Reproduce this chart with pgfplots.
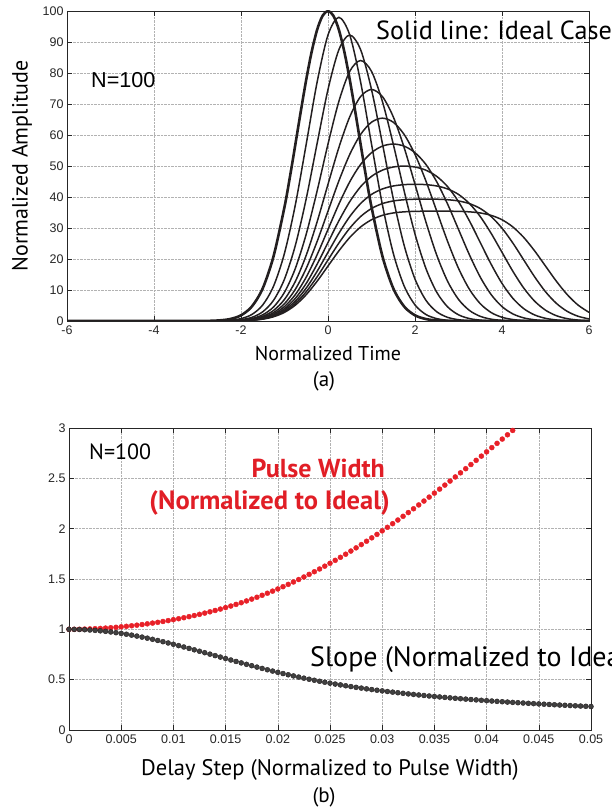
\documentclass[border=0pt]{standalone}
\usepackage{fontspec}
\setmainfont{Liberation Sans}
\newfontfamily\lab{PT Sans}
\usepackage{pgfplots}
\pgfplotsset{compat=1.18}
\definecolor{pred}{RGB}{232,32,40}
\definecolor{tred}{RGB}{225,30,38}
\definecolor{cblk}{RGB}{35,31,32}
\pgfplotsset{
  mystyle/.style={
    scale only axis,
    tick align=inside,
    grid=major,
    major grid style={densely dotted, black!30, line width=0.5pt},
    axis line style={line width=0.8pt, black!85},
    every tick/.style={black!85, line width=0.6pt},
    major tick length=5pt,
    tick label style={font=\fontsize{12.5}{14}\selectfont, text=black!85},
    xticklabel style={yshift=-1.5pt},
    scaled x ticks=false, scaled y ticks=false,
    /pgf/number format/assume math mode=true,
  },
  curve/.style={cblk, line width=1.5pt, smooth, no markers},
}
\begin{document}
\begin{tikzpicture}[x=1pt,y=1pt]
\path[use as bounding box] (0,0) rectangle (612,809);
\clip (0,0) rectangle (612,809);
% ---------------- (a) ----------------
\begin{axis}[mystyle,
  at={(67pt,488pt)}, anchor=south west,
  width=522pt, height=310pt,
  xmin=-6, xmax=6, ymin=0, ymax=100,
  xtick={-6,-4,-2,0,2,4,6}, ytick={0,10,20,30,40,50,60,70,80,90,100},
  xlabel={\lab\fontsize{20}{24}\selectfont Normalized Time},
  xlabel style={at={(axis description cs:0.5,0)}, anchor=center, yshift=-33pt},
  ylabel={\lab\fontsize{22}{26}\selectfont Normalized Amplitude},
  ylabel style={at={(axis description cs:0,0.5)}, anchor=center, yshift=45pt},
]
% ideal
\addplot[cblk, line width=2.6pt, smooth, no markers] coordinates {
(-6,0)(-3.25,0)(-2.75,0.05)(-2.5,0.19)(-2.25,0.63)(-2,1.83)(-1.75,4.68)(-1.5,10.54)(-1.25,20.96)(-1,36.79)(-0.875,46.50)(-0.75,56.98)(-0.625,67.66)(-0.5,77.88)(-0.375,86.88)(-0.25,93.94)(-0.125,98.45)(0,100)(0.125,98.45)(0.25,93.94)(0.375,86.88)(0.5,77.88)(0.625,67.66)(0.75,56.98)(0.875,46.50)(1,36.79)(1.25,20.96)(1.5,10.54)(1.75,4.68)(2,1.83)(2.25,0.63)(2.5,0.19)(2.75,0.05)(3.25,0)(6,0)};
% T=0.5
\addplot[curve] coordinates {
(-6,0)(-3,0)(-2.5,0.07)(-2.25,0.24)(-2,0.76)(-1.75,2.10)(-1.5,5.18)(-1.25,11.30)(-1,21.87)(-0.75,37.53)(-0.5,57.11)(-0.25,77.07)(0,92.26)(0.25,97.96)(0.5,92.26)(0.75,77.07)(1,57.11)(1.25,37.53)(1.5,21.87)(1.75,11.30)(2,5.18)(2.25,2.10)(2.5,0.76)(2.75,0.24)(3,0.07)(3.5,0)(6,0)};
% T=1
\addplot[curve] coordinates {
(-6,0)(-3,0)(-2.5,0.04)(-2.25,0.13)(-2,0.41)(-1.75,1.17)(-1.5,2.97)(-1.25,6.70)(-1,13.53)(-0.75,24.42)(-0.5,39.49)(-0.25,57.30)(0,74.68)(0.25,87.51)(0.5,92.26)(0.75,87.51)(1,74.68)(1.25,57.30)(1.5,39.49)(1.75,24.42)(2,13.53)(2.25,6.70)(2.5,2.97)(2.75,1.17)(3,0.41)(3.25,0.13)(3.5,0.04)(4,0)(6,0)};
% T=1.5
\addplot[curve] coordinates {
(-6,0)(-3,0)(-2.5,0.02)(-2.25,0.09)(-2,0.28)(-1.75,0.79)(-1.5,2.00)(-1.25,4.55)(-1,9.27)(-0.75,16.98)(-0.5,28.05)(-0.25,41.97)(0,57.08)(0.25,70.85)(0.5,80.54)(0.75,84.03)(1,80.54)(1.25,70.85)(1.5,57.08)(1.75,41.97)(2,28.05)(2.25,16.98)(2.5,9.27)(2.75,4.55)(3,2.00)(3.25,0.79)(3.5,0.28)(3.75,0.09)(4,0.02)(4.5,0)(6,0)};
% T=2
\addplot[curve] coordinates {
(-6,0)(-3,0)(-2.5,0.02)(-2.25,0.06)(-2,0.21)(-1.75,0.59)(-1.5,1.50)(-1.25,3.42)(-1,6.97)(-0.75,12.79)(-0.5,21.23)(-0.25,32.00)(0,44.10)(0.25,55.96)(0.5,65.87)(0.75,72.41)(1,74.68)(1.25,72.41)(1.5,65.87)(1.75,55.96)(2,44.10)(2.25,32.00)(2.5,21.23)(2.75,12.79)(3,6.97)(3.25,3.42)(3.5,1.50)(3.75,0.59)(4,0.21)(4.25,0.06)(4.5,0.02)(5,0)(6,0)};
% T=2.5
\addplot[curve] coordinates {
(-6,0)(-3,0)(-2.5,0.01)(-2.25,0.05)(-2,0.17)(-1.75,0.47)(-1.5,1.20)(-1.25,2.73)(-1,5.58)(-0.75,10.24)(-0.5,17.00)(-0.25,25.65)(0,35.43)(0.25,45.19)(0.5,53.73)(0.75,60.19)(1,64.12)(1.25,65.43)(1.5,64.12)(1.75,60.19)(2,53.73)(2.25,45.19)(2.5,35.43)(2.75,25.65)(3,17.00)(3.25,10.24)(3.5,5.58)(3.75,2.73)(4,1.20)(4.25,0.47)(4.5,0.17)(4.75,0.05)(5,0.01)(5.5,0)(6,0)};
% T=3
\addplot[curve] coordinates {
(-6,0)(-3,0)(-2.5,0.01)(-2.25,0.04)(-2,0.14)(-1.75,0.39)(-1.5,1.00)(-1.25,2.28)(-1,4.65)(-0.75,8.53)(-0.5,14.16)(-0.25,21.38)(0,29.54)(0.25,37.70)(0.5,44.90)(0.75,50.51)(1,54.30)(1.25,56.41)(1.5,57.08)(1.75,56.41)(2,54.30)(2.25,50.51)(2.5,44.90)(2.75,37.70)(3,29.54)(3.25,21.38)(3.5,14.16)(3.75,8.53)(4,4.65)(4.25,2.28)(4.5,1.00)(4.75,0.39)(5,0.14)(5.25,0.04)(5.5,0.01)(6,0)};
% T=3.5
\addplot[curve] coordinates {
(-6,0)(-3,0)(-2.5,0.01)(-2.25,0.04)(-2,0.12)(-1.75,0.34)(-1.5,0.86)(-1.25,1.95)(-1,3.98)(-0.75,7.31)(-0.5,12.14)(-0.25,18.32)(0,25.32)(0.25,32.32)(0.5,38.50)(0.75,43.33)(1,46.65)(1.25,48.65)(1.5,49.67)(1.75,49.97)(2,49.67)(2.25,48.65)(2.5,46.65)(2.75,43.33)(3,38.50)(3.25,32.32)(3.5,25.32)(3.75,18.32)(4,12.14)(4.25,7.31)(4.5,3.98)(4.75,1.95)(5,0.86)(5.25,0.34)(5.5,0.12)(5.75,0.04)(6,0.01)};
% T=4
\addplot[curve] coordinates {
(-6,0)(-3,0)(-2.5,0.01)(-2.25,0.03)(-2,0.10)(-1.75,0.30)(-1.5,0.75)(-1.25,1.71)(-1,3.49)(-0.75,6.40)(-0.5,10.62)(-0.25,16.03)(0,22.16)(0.25,28.28)(0.5,33.69)(0.75,37.91)(1,40.83)(1.25,42.60)(1.5,43.55)(1.75,43.98)(2,44.10)(2.25,43.98)(2.5,43.55)(2.75,42.60)(3,40.83)(3.25,37.91)(3.5,33.69)(3.75,28.28)(4,22.16)(4.25,16.03)(4.5,10.62)(4.75,6.40)(5,3.49)(5.25,1.71)(5.5,0.75)(5.75,0.30)(6,0.10)};
% T=4.5
\addplot[curve] coordinates {
(-6,0)(-3,0)(-2.5,0.01)(-2.25,0.03)(-2,0.09)(-1.75,0.26)(-1.5,0.67)(-1.25,1.52)(-1,3.10)(-0.75,5.69)(-0.5,9.44)(-0.25,14.25)(0,19.69)(0.25,25.14)(0.5,29.94)(0.75,33.70)(1,36.29)(1.25,37.87)(1.5,38.72)(1.75,39.12)(2,39.29)(2.25,39.33)(2.5,39.29)(2.75,39.12)(3,38.72)(3.25,37.87)(3.5,36.29)(3.75,33.70)(4,29.94)(4.25,25.14)(4.5,19.69)(4.75,14.25)(5,9.44)(5.25,5.69)(5.5,3.10)(5.75,1.52)(6,0.67)};
% T=5
\addplot[curve] coordinates {
(-6,0)(-3,0)(-2.5,0.01)(-2.25,0.03)(-2,0.08)(-1.75,0.24)(-1.5,0.60)(-1.25,1.37)(-1,2.79)(-0.75,5.12)(-0.5,8.50)(-0.25,12.83)(0,17.72)(0.25,22.62)(0.5,26.95)(0.75,30.33)(1,32.66)(1.25,34.08)(1.5,34.85)(1.75,35.21)(2,35.37)(2.25,35.42)(2.5,35.43)(2.75,35.42)(3,35.37)(3.25,35.21)(3.5,34.85)(3.75,34.08)(4,32.66)(4.25,30.33)(4.5,26.95)(4.75,22.62)(5,17.72)(5.25,12.83)(5.5,8.50)(5.75,5.12)(6,2.79)};
\end{axis}
\node[anchor=center] at (324,428) {\lab\fontsize{21}{24}\selectfont (a)};
\node[anchor=base west, inner sep=0pt] at (376,769) {\lab\fontsize{26.2}{30}\selectfont Solid line: Ideal Case};
\node[anchor=west, inner sep=0pt] at (91,729) {\fontsize{21.6}{24}\selectfont N=100};
% ---------------- (b) ----------------
\begin{axis}[mystyle,
  at={(69pt,79pt)}, anchor=south west,
  width=522pt, height=302pt,
  xmin=0, xmax=0.05, ymin=0, ymax=3,
  xtick={0,0.005,0.01,0.015,0.02,0.025,0.03,0.035,0.04,0.045,0.05},
  xticklabels={0,0.005,0.01,0.015,0.02,0.025,0.03,0.035,0.04,0.045,0.05},
  ytick={0,0.5,1,1.5,2,2.5,3},
  yticklabels={0,0.5,1,1.5,2,2.5,3},
  xlabel={\lab\fontsize{22.5}{26}\selectfont Delay Step (Normalized to Pulse Width)},
  xlabel style={at={(axis description cs:0.5,0)}, anchor=center, yshift=-40pt},
]
\addplot[only marks, mark=*, mark size=2.5pt, mark options={fill=pred, draw=pred}] coordinates {
(0,1.0000)(0.0005,1.0003)(0.001,1.0010)(0.0015,1.0023)(0.002,1.0040)(0.0025,1.0063)(0.003,1.0090)(0.0035,1.0123)(0.004,1.0160)(0.0045,1.0203)
(0.005,1.0250)(0.0055,1.0300)(0.006,1.0354)(0.0065,1.0413)(0.007,1.0477)(0.0075,1.0546)(0.008,1.0619)(0.0085,1.0697)(0.009,1.0780)(0.0095,1.0868)
(0.01,1.0960)(0.0105,1.1054)(0.011,1.1154)(0.0115,1.1260)(0.012,1.1372)(0.0125,1.1489)(0.013,1.1612)(0.0135,1.1740)(0.014,1.1874)(0.0145,1.2014)
(0.015,1.2160)(0.0155,1.2315)(0.016,1.2476)(0.0165,1.2644)(0.017,1.2819)(0.0175,1.3001)(0.018,1.3189)(0.0185,1.3384)(0.019,1.3586)(0.0195,1.3795)
(0.02,1.4010)(0.0205,1.4234)(0.021,1.4465)(0.0215,1.4703)(0.022,1.4948)(0.0225,1.5199)(0.023,1.5458)(0.0235,1.5723)(0.024,1.5995)(0.0245,1.6274)
(0.025,1.6560)(0.0255,1.6855)(0.026,1.7156)(0.0265,1.7463)(0.027,1.7776)(0.0275,1.8095)(0.028,1.8420)(0.0285,1.8751)(0.029,1.9088)(0.0295,1.9431)
(0.03,1.9780)(0.0305,2.0135)(0.031,2.0495)(0.0315,2.0859)(0.032,2.1227)(0.0325,2.1600)(0.033,2.1977)(0.0335,2.2359)(0.034,2.2745)(0.0345,2.3135)
(0.035,2.3530)(0.0355,2.3928)(0.036,2.4328)(0.0365,2.4731)(0.037,2.5137)(0.0375,2.5546)(0.038,2.5957)(0.0385,2.6371)(0.039,2.6788)(0.0395,2.7208)
(0.04,2.7630)(0.0405,2.8051)(0.041,2.8474)(0.0415,2.8899)(0.042,2.9326)(0.0425,2.9755)};
\addplot[only marks, mark=*, mark size=2.5pt, mark options={fill=black!75, draw=cblk}] coordinates {
(0,1.00000)(0.0005,0.99958)(0.001,0.99833)(0.0015,0.99626)(0.002,0.99336)(0.0025,0.98968)(0.003,0.98516)(0.0035,0.97989)(0.004,0.97384)(0.0045,0.96706)
(0.005,0.95957)(0.0055,0.95139)(0.006,0.94252)(0.0065,0.93301)(0.007,0.92288)(0.0075,0.91219)(0.008,0.90098)(0.0085,0.88927)(0.009,0.87710)(0.0095,0.86450)
(0.01,0.85152)(0.0105,0.83819)(0.011,0.82457)(0.0115,0.81069)(0.012,0.79660)(0.0125,0.78234)(0.013,0.76790)(0.0135,0.75339)(0.014,0.73884)(0.0145,0.72429)
(0.015,0.70977)(0.0155,0.69523)(0.016,0.68083)(0.0165,0.66659)(0.017,0.65253)(0.0175,0.63866)(0.018,0.62493)(0.0185,0.61149)(0.019,0.59834)(0.0195,0.58549)
(0.02,0.57294)(0.0205,0.56072)(0.021,0.54877)(0.0215,0.53716)(0.022,0.52589)(0.0225,0.51497)(0.023,0.50439)(0.0235,0.49415)(0.024,0.48426)(0.0245,0.47469)
(0.025,0.46543)(0.0255,0.45650)(0.026,0.44788)(0.0265,0.43954)(0.027,0.43149)(0.0275,0.42372)(0.028,0.41620)(0.0285,0.40894)(0.029,0.40192)(0.0295,0.39513)
(0.03,0.38856)(0.0305,0.38224)(0.031,0.37607)(0.0315,0.37010)(0.032,0.36432)(0.0325,0.35871)(0.033,0.35328)(0.0335,0.34801)(0.034,0.34289)(0.0345,0.33792)
(0.035,0.33309)(0.0355,0.32840)(0.036,0.32384)(0.0365,0.31940)(0.037,0.31509)(0.0375,0.31089)(0.038,0.30680)(0.0385,0.30281)(0.039,0.29893)(0.0395,0.29514)
(0.04,0.29146)(0.0405,0.28786)(0.041,0.28435)(0.0415,0.28092)(0.042,0.27758)(0.0425,0.27431)(0.043,0.27112)(0.0435,0.26801)(0.044,0.26496)(0.0445,0.26198)
(0.045,0.25907)(0.0455,0.25622)(0.046,0.25344)(0.0465,0.25071)(0.047,0.24805)(0.0475,0.24544)(0.048,0.24288)(0.0485,0.24038)(0.049,0.23792)(0.0495,0.23552)
(0.05,0.23316)};
\end{axis}
\node[anchor=center] at (324,12) {\lab\fontsize{21}{24}\selectfont (b)};
\node[anchor=west, inner sep=0pt] at (89,357) {\lab\fontsize{22}{24}\selectfont N=100};
\node[anchor=east, inner sep=0pt, text=tred] at (385,341) {\lab\bfseries\fontsize{26}{30}\selectfont Pulse Width};
\node[anchor=east, inner sep=0pt, text=tred] at (390,306) {\lab\bfseries\fontsize{26.5}{30}\selectfont (Normalized to Ideal)};
\node[anchor=west, inner sep=0pt] at (310,149) {\lab\fontsize{28}{32}\selectfont Slope (Normalized to Ideal)};
\end{tikzpicture}
\end{document}
